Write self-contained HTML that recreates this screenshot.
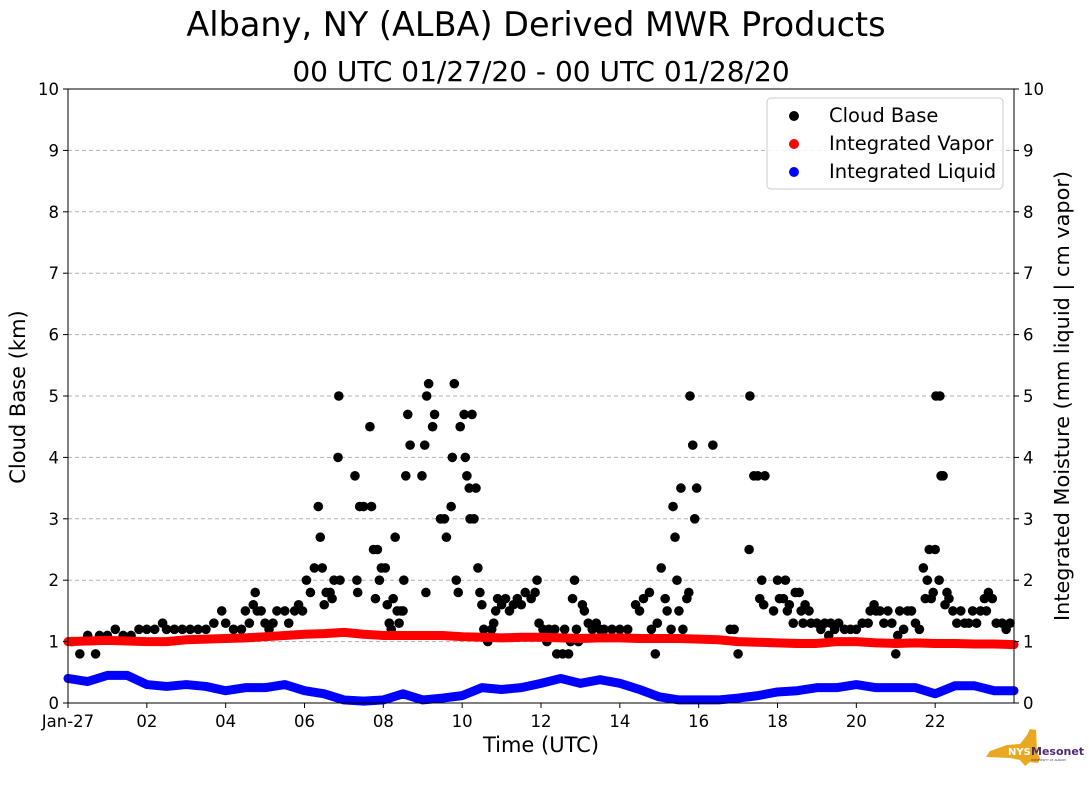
<!DOCTYPE html>
<html><head><meta charset="utf-8"><style>
body{margin:0;background:#fff;width:1089px;height:804px;overflow:hidden}
svg text{font-family:"DejaVu Sans","Liberation Sans",sans-serif}
</style></head><body>
<svg id="c" width="1089" height="804" xmlns="http://www.w3.org/2000/svg">
<text x="536" y="36" font-size="33.5" text-anchor="middle">Albany, NY (ALBA) Derived MWR Products</text>
<text x="541" y="81" font-size="28" text-anchor="middle">00 UTC 01/27/20 - 00 UTC 01/28/20</text>
<g id="grid"></g><g id="marks"></g><g id="axes"></g>
<g>
<rect x="767" y="98" width="236" height="91" rx="4" fill="#fff" fill-opacity="0.85" stroke="#ccc"/>
<circle cx="794" cy="116" r="5" fill="#000"/><text x="829" y="122" font-size="19.5">Cloud Base</text>
<circle cx="794" cy="144" r="5" fill="#f00"/><text x="829" y="150" font-size="19.5">Integrated Vapor</text>
<circle cx="794" cy="172" r="5" fill="#00f"/><text x="829" y="178" font-size="19.5">Integrated Liquid</text>
</g>
<text x="541" y="752" font-size="21" text-anchor="middle">Time (UTC)</text>
<text transform="translate(25,397) rotate(-90)" font-size="21" text-anchor="middle">Cloud Base (km)</text>
<text transform="translate(1069,396) rotate(-90)" font-size="20.8" text-anchor="middle">Integrated Moisture (mm liquid | cm vapor)</text>
<g>
<path d="M1007,745 L1020,744 L1027,735 L1030,729 L1036,730 L1037,752 L1040,758 L1038,763 L1030,762 L1025,766 L1020,760 L1010,758 L986,757 L990,751 Z" fill="#e9a81f"/>
<text x="1008" y="755" font-size="10" font-weight="bold" fill="#fff">NYS</text>
<text x="1031" y="755" font-size="11" font-weight="bold" fill="#4b2a73">Mesonet</text>
<text x="1031" y="761" font-size="3" fill="#4b2a73">UNIVERSITY AT ALBANY</text>
</g>
</svg>
<script>
const cloudTimes=[0.1,0.3,0.5,0.7,0.8,1.0,1.2,1.4,1.6,1.8,2.0,2.2,2.4,2.5,2.7,2.9,3.1,3.3,3.5,3.7,3.9,4.0,4.2,4.4,4.5,4.6,4.7,4.75,4.8,4.9,5.0,5.1,5.2,5.3,5.5,5.6,5.75,5.85,5.95,6.05,6.15,6.25,6.35,6.4,6.45,6.5,6.55,6.65,6.7,6.75,6.85,6.87,6.9,7.28,7.33,7.35,7.4,7.5,7.66,7.7,7.75,7.8,7.85,7.9,7.95,8.05,8.1,8.15,8.2,8.25,8.3,8.35,8.4,8.45,8.5,8.52,8.57,8.62,8.68,8.98,9.05,9.08,9.1,9.15,9.25,9.3,9.45,9.55,9.6,9.72,9.75,9.8,9.85,9.9,9.95,10.05,10.08,10.12,10.18,10.2,10.25,10.3,10.35,10.4,10.45,10.5,10.55,10.65,10.75,10.8,10.85,10.9,11.0,11.1,11.2,11.3,11.4,11.5,11.6,11.75,11.85,11.9,11.95,12.05,12.15,12.2,12.35,12.4,12.55,12.6,12.7,12.75,12.8,12.85,12.9,12.95,13.05,13.1,13.2,13.3,13.4,13.5,13.6,13.8,14.0,14.2,14.4,14.5,14.6,14.75,14.8,14.9,14.95,15.05,15.15,15.2,15.3,15.35,15.4,15.45,15.5,15.55,15.6,15.7,15.75,15.78,15.85,15.9,15.95,16.36,16.8,16.9,17.0,17.28,17.3,17.4,17.5,17.55,17.6,17.65,17.68,17.9,18.0,18.05,18.15,18.2,18.25,18.3,18.4,18.45,18.55,18.6,18.65,18.7,18.8,18.85,19.0,19.1,19.2,19.3,19.35,19.45,19.55,19.7,19.85,20.0,20.15,20.3,20.35,20.45,20.5,20.6,20.7,20.8,20.9,21.0,21.05,21.1,21.2,21.3,21.4,21.5,21.6,21.7,21.75,21.8,21.85,21.9,21.95,22.0,22.02,22.1,22.12,22.15,22.2,22.25,22.3,22.35,22.45,22.55,22.65,22.75,22.85,22.95,23.05,23.15,23.25,23.3,23.35,23.45,23.55,23.7,23.8,23.9];
const cloudBase=[1.0,0.8,1.1,0.8,1.1,1.1,1.2,1.1,1.1,1.2,1.2,1.2,1.3,1.2,1.2,1.2,1.2,1.2,1.2,1.3,1.5,1.3,1.2,1.2,1.5,1.3,1.6,1.8,1.5,1.5,1.3,1.2,1.3,1.5,1.5,1.3,1.5,1.6,1.5,2.0,1.8,2.2,3.2,2.7,2.2,1.6,1.8,1.8,1.7,2.0,4.0,5.0,2.0,3.7,2.0,1.8,3.2,3.2,4.5,3.2,2.5,1.7,2.5,2.0,2.2,2.2,1.6,1.3,1.2,1.7,2.7,1.5,1.3,1.5,1.5,2.0,3.7,4.7,4.2,3.7,4.2,1.8,5.0,5.2,4.5,4.7,3.0,3.0,2.7,3.2,4.0,5.2,2.0,1.8,4.5,4.7,4.0,3.7,3.5,3.0,4.7,3.0,3.5,2.2,1.8,1.6,1.2,1.0,1.2,1.3,1.5,1.7,1.6,1.7,1.5,1.6,1.7,1.6,1.8,1.7,1.8,2.0,1.3,1.2,1.0,1.2,1.2,0.8,0.8,1.2,0.8,1.0,1.7,2.0,1.2,1.0,1.6,1.5,1.3,1.2,1.3,1.2,1.2,1.2,1.2,1.2,1.6,1.5,1.7,1.8,1.2,0.8,1.3,2.2,1.7,1.5,1.2,3.2,2.7,2.0,1.5,3.5,1.2,1.7,1.8,5.0,4.2,3.0,3.5,4.2,1.2,1.2,0.8,2.5,5.0,3.7,3.7,1.7,2.0,1.6,3.7,1.5,2.0,1.7,1.7,2.0,1.5,1.6,1.3,1.8,1.8,1.5,1.3,1.6,1.5,1.3,1.3,1.2,1.3,1.1,1.3,1.2,1.3,1.2,1.2,1.2,1.3,1.3,1.5,1.6,1.5,1.5,1.3,1.5,1.3,0.8,1.1,1.5,1.2,1.5,1.5,1.3,1.2,2.2,1.7,2.0,2.5,1.7,1.8,2.5,5.0,2.0,5.0,3.7,3.7,1.6,1.8,1.7,1.5,1.3,1.5,1.3,1.3,1.5,1.3,1.5,1.7,1.5,1.8,1.7,1.3,1.3,1.2,1.3];
const seriesTimes=[0,0.5,1,1.5,2,2.5,3,3.5,4,4.5,5,5.5,6,6.5,7,7.5,8,8.5,9,9.5,10,10.5,11,11.5,12,12.5,13,13.5,14,14.5,15,15.5,16,16.5,17,17.5,18,18.5,19,19.5,20,20.5,21,21.5,22,22.5,23,23.5,24];
const vapor=[1.0,1.01,1.02,1.01,1.0,1.0,1.03,1.04,1.05,1.06,1.08,1.1,1.12,1.13,1.15,1.12,1.1,1.1,1.1,1.1,1.08,1.07,1.06,1.07,1.07,1.06,1.05,1.06,1.06,1.05,1.05,1.05,1.04,1.03,1.0,0.99,0.98,0.97,0.97,1.0,1.0,0.98,0.97,0.98,0.97,0.97,0.96,0.96,0.95];
const liquid=[0.4,0.35,0.45,0.45,0.3,0.27,0.3,0.27,0.2,0.25,0.25,0.3,0.2,0.15,0.05,0.03,0.05,0.15,0.05,0.08,0.12,0.25,0.22,0.25,0.32,0.4,0.32,0.38,0.32,0.22,0.1,0.05,0.05,0.05,0.08,0.12,0.18,0.2,0.25,0.25,0.3,0.25,0.25,0.25,0.15,0.28,0.28,0.2,0.2];
const yTicks=[0,1,2,3,4,5,6,7,8,9,10];
const xTickHours=[0,2,4,6,8,10,12,14,16,18,20,22];
const xTickLabels=["Jan-27","02","04","06","08","10","12","14","16","18","20","22"];
const L=68,R=1014,T=89,B=703,NS="http://www.w3.org/2000/svg";
const xs=h=>L+(R-L)*h/24, ys=v=>B-(B-T)*v/10;
function mk(tag,a,p){const e=document.createElementNS(NS,tag);for(const k in a)e.setAttribute(k,a[k]);p.appendChild(e);return e;}
const grid=document.getElementById('grid'),marks=document.getElementById('marks'),axes=document.getElementById('axes');
yTicks.forEach(v=>{
 if(v>0&&v<10){const g=mk('line',{x1:L,x2:R,y1:ys(v),y2:ys(v),stroke:'#b0b0b0','stroke-dasharray':'4,3','stroke-width':1},grid);
 
 }
 mk('line',{x1:L-5,x2:L,y1:ys(v),y2:ys(v),stroke:'#000'},axes);
 mk('line',{x1:R,x2:R+5,y1:ys(v),y2:ys(v),stroke:'#000'},axes);
 const t1=mk('text',{x:L-9,y:ys(v)+6,'font-size':16.5,'text-anchor':'end'},axes);t1.textContent=v;
 
 
 const t2=mk('text',{x:R+9,y:ys(v)+6,'font-size':16.5},axes);t2.textContent=v;
 
 
});
xTickHours.forEach((h,i)=>{
 mk('line',{x1:xs(h),x2:xs(h),y1:B,y2:B+5,stroke:'#000'},axes);
 const t=mk('text',{x:xs(h),y:B+24,'font-size':16.5,'text-anchor':'middle'},axes);t.textContent=xTickLabels[i];
 
 
});
const fr=mk('rect',{x:L,y:T,width:R-L,height:B-T,fill:'none',stroke:'#000','stroke-width':1},axes);


cloudTimes.forEach((t,i)=>{const c=mk('circle',{cx:xs(t),cy:ys(cloudBase[i]),r:4.8,fill:'#000'},marks);
 
 });
function line(vals,col,name){
 const pts=seriesTimes.map((t,i)=>xs(t)+','+ys(vals[i])).join(' ');
 const p=mk('polyline',{points:pts,fill:'none',stroke:col,'stroke-width':9,'stroke-linecap':'round','stroke-linejoin':'round'},marks);
 
 
}
line(vapor,'#f00','integrated-vapor-series');
line(liquid,'#00f','integrated-liquid-series');
</script>
</body></html>
